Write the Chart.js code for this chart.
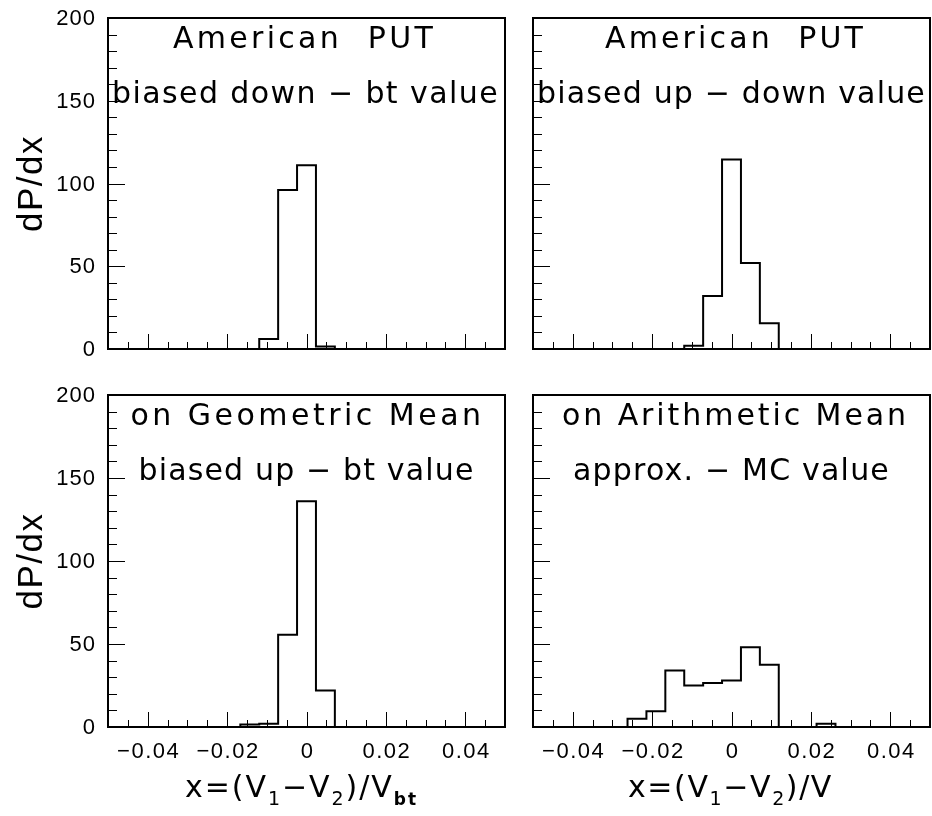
<!DOCTYPE html>
<html>
<head>
<meta charset="utf-8">
<script src="https://cdn.jsdelivr.net/npm/chart.js@4.4.1/dist/chart.umd.min.js"></script>
<style>
html,body{margin:0;padding:0;background:#fff;}
#wrap{position:relative;width:932px;height:816px;overflow:hidden;background:#fff;}
#wrap canvas{position:absolute;}
</style>
</head>
<body>
<div id="wrap">
  <canvas id="cTL" width="520" height="372" style="left:0px;top:0px;width:520px;height:372px"></canvas>
  <canvas id="cTR" width="412" height="372" style="left:520px;top:0px;width:412px;height:372px"></canvas>
  <canvas id="cBL" width="520" height="444" style="left:0px;top:372px;width:520px;height:444px"></canvas>
  <canvas id="cBR" width="412" height="444" style="left:520px;top:372px;width:412px;height:444px"></canvas>
</div>
<script>
// ---------------- DATA ----------------
// Histogram binning (21 bins between -0.05 and 0.05)
const histMin = -0.05;
const histMax = 0.05;
const binCount = 21;

// Bin contents (dP/dx), bin 0 .. bin 20
const putBiasedDownBt  = [0,0,0,0,0,0,0,0,6,96,111,1.5,0,0,0,0,0,0,0,0,0];
const putBiasedUpDown  = [0,0,0,0,0,0,0,0,2,32,114.5,52,15.5,0,0,0,0,0,0,0,0];
const geoBiasedUpBt    = [0,0,0,0,0,0,0,1.5,2,55.5,136,22,0,0,0,0,0,0,0,0,0];
const arithApproxMc    = [0,0,0,0,0,5,9.5,34,25,26.5,28,48,37.5,0,0,2,0,0,0,0,0];

// Tick labels
const xTickValues = [-0.04, -0.02, 0, 0.02, 0.04];
const xTickLabels = ['\u22120.04', '\u22120.02', '0', '0.02', '0.04'];
const yTickValues = [0, 50, 100, 150, 200];
const yTickLabels = ['0', '50', '100', '150', '200'];

// Texts
const titleTL = ['American  PUT', 'biased down \u2212 bt value'];
const titleTR = ['American  PUT', 'biased up \u2212 down value'];
const titleBL = ['on Geometric Mean', 'biased up \u2212 bt value'];
const titleBR = ['on Arithmetic Mean', 'approx. \u2212 MC value'];
const yAxisTitle = 'dP/dx';
const xTitleLeft  = [['x=(V','m'],['1','s'],['\u2212V','m'],['2','s'],[')/V','m'],['bt','b']];
const xTitleRight = [['x=(V','m'],['1','s'],['\u2212V','m'],['2','s'],[')/V','m']];

// ---------------- DRAWING ----------------
const binWidth = (histMax - histMin) / binCount;
const binCenters = Array.from({length: binCount}, (_, i) => histMin + (i + 0.5) * binWidth);

const TITLE_FONT = '"DejaVu Sans", sans-serif';
const LABEL_FONT = '"Liberation Sans", Arial, sans-serif';

function spacedText(ctx, text, font, cx, baseline, target) {
  ctx.font = font;
  ctx.letterSpacing = '0px';
  const nat = ctx.measureText(text).width;
  const n = [...text].length;
  const ls = (target - nat) / n;
  ctx.letterSpacing = ls + 'px';
  ctx.textAlign = 'left';
  ctx.textBaseline = 'alphabetic';
  ctx.fillText(text, cx - target / 2, baseline);
  ctx.letterSpacing = '0px';
}

function richText(ctx, segs, cx, baseline, target) {
  const fonts = {
    m: {font: '30px ' + TITLE_FONT, dy: 0},
    s: {font: '19px ' + TITLE_FONT, dy: 8},
    b: {font: 'bold 17px ' + TITLE_FONT, dy: 8}
  };
  ctx.letterSpacing = '0px';
  let nat = 0, n = 0;
  const items = segs.map(([t, k]) => {
    ctx.font = fonts[k].font;
    const w = ctx.measureText(t).width;
    nat += w; n += [...t].length;
    return {t, f: fonts[k], w};
  });
  const ls = (target - nat) / n;
  let x = cx - target / 2;
  ctx.textAlign = 'left';
  ctx.textBaseline = 'alphabetic';
  items.forEach(it => {
    ctx.font = it.f.font;
    ctx.letterSpacing = ls + 'px';
    ctx.fillText(it.t, x, baseline + it.f.dy);
    x += it.w + ls * [...it.t].length;
  });
  ctx.letterSpacing = '0px';
}

const rootStyle = {
  id: 'rootStyle',
  afterDraw(chart, args, o) {
    const ctx = chart.ctx;
    const a = chart.chartArea;
    const xs = chart.scales.x, ys = chart.scales.y;
    ctx.save();
    ctx.fillStyle = '#000';
    ctx.strokeStyle = '#000';

    // x tick marks (inside, from bottom)
    const xt = xs.ticks.length ? xs.ticks.map(t => t.value) : [];
    ctx.lineWidth = 1;
    xt.forEach(v => {
      const k = Math.round(v * 1000);
      if (Math.abs(k) >= 50) return;
      const px = Math.round(xs.getPixelForValue(v)) + 0.5;
      const len = (k % 20 === 0) ? 15 : 7;
      ctx.beginPath();
      ctx.moveTo(px, a.bottom);
      ctx.lineTo(px, a.bottom - len);
      ctx.stroke();
    });
    // y tick marks (inside, from left)
    const yt = ys.ticks.length ? ys.ticks.map(t => t.value) : [];
    yt.forEach(v => {
      if (v <= 0 || v >= 200) return;
      const py = Math.round(ys.getPixelForValue(v)) + 0.5;
      const len = (v % 50 === 0) ? 17 : 9;
      ctx.beginPath();
      ctx.moveTo(a.left, py);
      ctx.lineTo(a.left + len, py);
      ctx.stroke();
    });

    // frame
    ctx.lineWidth = 2;
    ctx.strokeRect(a.left, a.top, a.right - a.left, a.bottom - a.top);

    // y tick labels & title
    if (o.yLabels) {
      ctx.font = '22px ' + LABEL_FONT;
      ctx.letterSpacing = '1px';
      ctx.textAlign = 'right';
      ctx.textBaseline = 'middle';
      yTickValues.forEach((v, i) => {
        ctx.fillText(yTickLabels[i], a.left - 12, ys.getPixelForValue(v) + 1);
      });
      ctx.letterSpacing = '0px';
      ctx.save();
      ctx.translate(30, (a.top + a.bottom) / 2);
      ctx.rotate(-Math.PI / 2);
      spacedText(ctx, yAxisTitle, '35px ' + LABEL_FONT, 0, 12, 97);
      ctx.restore();
    }
    // x tick labels & title
    if (o.xLabels) {
      ctx.font = '22px ' + LABEL_FONT;
      ctx.letterSpacing = '1.5px';
      ctx.textAlign = 'center';
      ctx.textBaseline = 'middle';
      xTickValues.forEach((v, i) => {
        ctx.fillText(xTickLabels[i], xs.getPixelForValue(v) + 1, a.bottom + 25);
      });
      ctx.letterSpacing = '0px';
      richText(ctx, o.xTitle, (a.left + a.right) / 2 + o.xTitleDx, a.bottom + 70, o.xTitleW);
    }
    // panel titles
    const cx = (a.left + a.right) / 2;
    spacedText(ctx, o.title[0], '30px ' + TITLE_FONT, cx + o.t1dx, a.top + 30, o.t1w);
    spacedText(ctx, o.title[1], '30px ' + TITLE_FONT, cx + o.t2dx, a.top + 85, o.t2w);
    ctx.restore();
  }
};

function makePanel(id, values, pad, opts) {
  const pts = binCenters.map((x, i) => ({x, y: values[i]}));
  return new Chart(document.getElementById(id), {
    type: 'line',
    data: {
      datasets: [{
        data: pts,
        stepped: 'middle',
        borderColor: '#000',
        borderWidth: 2,
        pointRadius: 0,
        fill: false,
        tension: 0
      }]
    },
    options: {
      responsive: false,
      animation: false,
      devicePixelRatio: 1,
      layout: {padding: pad},
      plugins: {
        legend: {display: false},
        tooltip: {enabled: false},
        rootStyle: opts
      },
      scales: {
        x: {type: 'linear', display: false, min: histMin, max: histMax,
            ticks: {stepSize: 0.005, autoSkip: false}},
        y: {type: 'linear', display: false, min: 0, max: 200,
            ticks: {stepSize: 10, autoSkip: false}}
      }
    },
    plugins: [rootStyle]
  });
}

makePanel('cTL', putBiasedDownBt, {left: 108, top: 18, right: 15, bottom: 23},
  {yLabels: true, xLabels: false, title: titleTL, t1w: 263, t2w: 387, t1dx: -2, t2dx: -1});
makePanel('cTR', putBiasedUpDown, {left: 13, top: 18, right: 2, bottom: 23},
  {yLabels: false, xLabels: false, title: titleTR, t1w: 261, t2w: 389, t1dx: 4, t2dx: 0});
makePanel('cBL', geoBiasedUpBt, {left: 108, top: 23, right: 15, bottom: 89},
  {yLabels: true, xLabels: true, title: titleBL, t1w: 354, t2w: 336, t1dx: 1, t2dx: 0,
   xTitle: xTitleLeft, xTitleW: 233, xTitleDx: -5});
makePanel('cBR', arithApproxMc, {left: 13, top: 23, right: 2, bottom: 89},
  {yLabels: false, xLabels: true, title: titleBR, t1w: 347, t2w: 317, t1dx: 4, t2dx: 0,
   xTitle: xTitleRight, xTitleW: 205, xTitleDx: -1});
</script>
</body>
</html>
